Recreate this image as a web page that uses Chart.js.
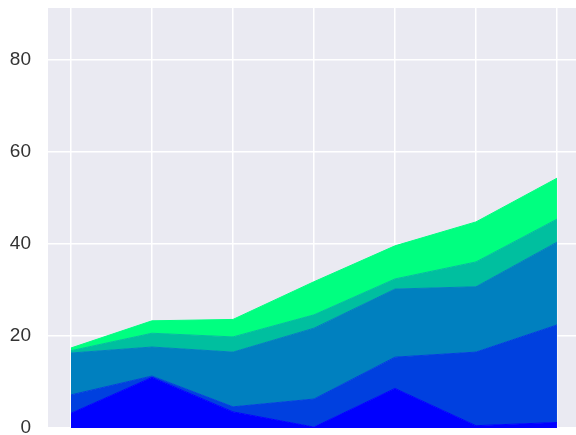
<!DOCTYPE html>
<html>
<head>
<meta charset="utf-8">
<script src="https://cdn.jsdelivr.net/npm/chart.js@4/dist/chart.umd.min.js"></script>
<style>
  html, body { margin: 0; padding: 0; background: #ffffff; }
  #c { display: block; }
</style>
</head>
<body>
<canvas id="c" width="576" height="435"></canvas>
<script>
const xValues = [0, 1, 2, 3, 4, 5, 6];
const series1 = [3.2, 11.0, 3.5, 0.2, 8.6, 0.5, 1.2];
const series2 = [4.0, 0.3, 1.1, 6.1, 6.8, 16.0, 21.2];
const series3 = [9.1, 6.3, 11.9, 15.4, 14.8, 14.2, 18.0];
const series4 = [0.5, 3.0, 3.3, 2.9, 2.2, 5.4, 5.0];
const series5 = [0.6, 2.7, 3.8, 7.2, 7.2, 8.7, 8.9];
const yTicks = [0, 20, 40, 60, 80];

const allSeries = [series1, series2, series3, series4, series5];
const colors = ['#0000ff', '#0040df', '#0080bf', '#00bf9f', '#00ff80'];

const bgPlugin = {
  id: 'bg',
  beforeDraw(chart) {
    const { ctx, chartArea: a } = chart;
    ctx.save();
    ctx.fillStyle = '#eaeaf2';
    ctx.fillRect(a.left, a.top, a.right - a.left, a.bottom - a.top);
    ctx.restore();
  }
};

const datasets = allSeries.map((s, i) => ({
  label: 'S' + (i + 1),
  data: s.map((v, j) => ({ x: xValues[j], y: v })),
  backgroundColor: colors[i],
  borderColor: colors[i],
  borderWidth: 1,
  pointRadius: 0,
  tension: 0,
  fill: i === 0 ? 'origin' : '-1'
}));

new Chart(document.getElementById('c'), {
  type: 'line',
  data: { datasets },
  plugins: [bgPlugin],
  options: {
    responsive: false,
    animation: false,
    layout: { padding: { top: 8, bottom: 7, left: 0, right: 0 } },
    plugins: { legend: { display: false }, tooltip: { enabled: false } },
    scales: {
      x: {
        type: 'linear',
        min: -0.284,
        max: 6.235,
        border: { display: false },
        grid: { color: '#ffffff', lineWidth: 1.5, drawTicks: false },
        ticks: { display: false, stepSize: 1 },
        afterBuildTicks: axis => { axis.ticks = xValues.map(v => ({ value: v })); },
        afterFit: axis => { axis.height = 0; axis.paddingLeft = 0; axis.paddingRight = 0; }
      },
      y: {
        stacked: true,
        min: 0,
        max: 91.3,
        border: { display: false },
        grid: { color: '#ffffff', lineWidth: 1.5, drawTicks: false },
        ticks: {
          padding: 17,
          color: '#333333',
          font: { family: 'Liberation Sans', size: 19 }
        },
        afterBuildTicks: axis => { axis.ticks = yTicks.map(v => ({ value: v })); },
        afterFit: axis => { axis.width = 48; axis.paddingTop = 0; axis.paddingBottom = 0; }
      }
    }
  }
});
</script>
</body>
</html>
